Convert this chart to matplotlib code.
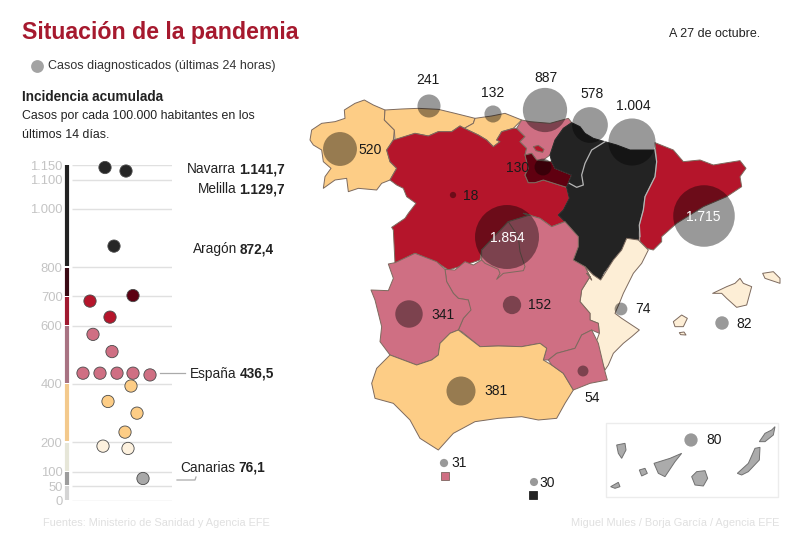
import matplotlib
matplotlib.use("Agg")
import matplotlib.pyplot as plt
from matplotlib.patches import Polygon, Rectangle

plt.rcParams['font.family'] = ['Liberation Sans', 'DejaVu Sans']

# ---------- data: incidence strip ----------
dot_values = [1141.7, 1129.7, 872.4, 703, 684, 629, 570, 511, 437, 437, 437, 437, 431, 393, 340, 300, 235, 187, 179, 76.1]
dot_tiers = ['k', 'k', 'k', 'm', 'r', 'r', 'p', 'p', 'p', 'p', 'p', 'p', 'p', 'o', 'o', 'o', 'o', 'c', 'c', 'g']
dot_swarm = [105, 126, 114, 133, 90, 110, 93, 112, 83, 100, 117, 133, 150, 131, 108, 137, 125, 103, 128, 143]
tick_values = [0, 50, 100, 200, 400, 600, 700, 800, 1000, 1100, 1150]
tick_labels = ['0', '50', '100', '200', '400', '600', '700', '800', '1.000', '1.100', '1.150']
band_edges = [0, 50, 100, 200, 400, 600, 700, 800, 1150]
band_colors = ['#d4d4d4', '#9c9c9c', '#e6e6d8', '#f3c98c', '#a87382', '#a01a30', '#3a0a14', '#222222']
tier_colors = {'k': '#262626', 'm': '#5c0012', 'r': '#b5152b', 'p': '#cf6f83',
               'o': '#fdcd86', 'c': '#fdf1de', 'g': '#a8a8a8'}
callouts = [('Navarra', '1.141,7', 285, 173), ('Melilla', '1.129,7', 285, 193),
            ('Aragón', '872,4', 274, 253), ('España', '436,5', 274, 378), ('Canarias', '76,1', 265, 472)]

# ---------- data: daily cases bubbles ----------
case_labels = ['241', '132', '887', '578', '1.004', '520', '130', '18', '1.854', '1.715',
               '341', '152', '74', '82', '381', '54', '31', '30', '80']
case_values = [241, 132, 887, 578, 1004, 520, 130, 18, 1854, 1715, 341, 152, 74, 82, 381, 54, 31, 30, 80]
case_x = [429, 493, 545, 590, 632, 340, 543, 453, 507, 704, 409, 512, 621, 722, 461, 583, 444, 534, 691]
case_y = [106, 114, 110, 125, 142, 149, 167, 195, 237, 216, 314, 305, 309, 323, 391, 371, 463, 482, 440]
label_x = [428, 493, 546, 592, 633, 370, 518, 471, 507, 703, 443, 540, 643, 744, 496, 592, 459, 547, 714]
label_y = [80, 93, 78, 94, 106, 150, 168, 196, 238, 217, 315, 305, 309, 324, 391, 398, 463, 483, 440]

# ---------- data: region outlines ----------
RED, PINK, ORANGE, CREAM, BLACK, WINE = '#b5152b', '#cf6f83', '#fdcd86', '#fdeed6', '#232323', '#600010'

def tracer(x0, y0):
    return lambda pts: [(x0 + x / 3, y0 + y / 3) for x, y in pts]

A, B, C, Z = tracer(305, 90), tracer(510, 100), tracer(365, 240), tracer(360, 230)

regions = [
    ('Galicia', ORANGE, A([(15,150),(20,120),(50,100),(90,95),(120,85),(118,60),(150,40),(178,30),(205,45),(240,60),(238,90),(268,120),(265,150),(245,180),(255,215),(275,235),(255,270),(230,280),(215,300),(160,295),(130,305),(125,265),(90,270),(55,295),(60,260),(78,235),(55,215),(50,180),(25,165)])),
    ('Asturias', ORANGE, A([(240,60),(290,57),(340,55),(400,58),(450,70),(510,85),(505,100),(478,115),(465,108),(440,125),(400,125),(370,138),(330,130),(270,150),(268,120),(238,90)])),
    ('Cantabria', ORANGE, A([(510,85),(560,78),(600,70),(650,90),(625,115),(590,125),(575,150),(585,155),(565,170),(545,150),(520,135),(478,115),(505,100)])),
    ('CastillaLeon', RED, A([(245,180),(265,150),(330,130),(370,138),(400,125),(440,125),(465,108),(478,115),(520,135),(545,150),(565,170),(585,155),(575,150),(590,125),(625,115)])
        + B([(20,85),(45,110),(30,125),(50,145),(45,165),(55,205),(45,225),(55,248),(75,248),(100,240),(170,262),(178,295),(160,330),(145,345),(165,365),(125,380),(90,355),(40,340)])
        + A([(675,375),(610,395),(560,450),(530,480),(525,510),(480,525),(430,540),(400,520),(330,490),(270,520),(265,420),(260,412),(300,385),(310,370),(333,340),(305,320),(295,295),(275,285),(255,270),(275,235),(255,215)])),
    ('PaisVasco', PINK, B([(35,60),(60,65),(120,70),(175,55),(185,68),(160,85),(135,120),(120,165),(100,180),(80,180),(65,160),(45,165),(50,145),(30,125),(45,110),(20,85)])),
    ('Trevino', RED, B([(70,140),(85,136),(102,148),(98,157),(78,152)])),
    ('Rioja', WINE, B([(45,165),(65,160),(80,180),(125,185),(135,205),(185,225),(170,262),(100,240),(75,248),(55,248),(45,225),(55,205)])),
    ('Navarra', BLACK, B([(185,68),(210,80),(225,100),(250,115),(285,125),(245,150),(225,190),(215,225),(220,255),(200,262),(178,250),(170,262),(185,225),(135,205),(125,185),(120,165),(135,120),(160,85)])),
    ('Aragon', BLACK, B([(285,125),(320,135),(360,150),(400,150),(435,150),(440,185),(435,230),(405,290),(400,330),(388,375),(385,420),(350,415),(335,450),(310,480),(280,520),(272,540),(250,525),(225,500),(190,480),(205,440),(205,410),(165,365),(145,345),(160,330),(178,295),(170,262),(178,250),(200,262),(220,255),(215,225),(225,190),(245,150)])),
    ('Cataluna', RED, B([(435,128),(490,150),(520,185),(570,180),(610,195),(640,190),(690,182),(708,205),(690,230),(695,260),(650,290),(580,320),(500,370),(455,410),(455,425),(430,450),(410,445),(390,425),(388,375),(400,330),(405,290),(435,230),(440,185)])),
    ('Valencia', CREAM, B([(350,415),(385,420),(415,450),(395,490),(370,520),(345,570)])
        + Z([(790,190),(780,215),(765,250),(785,265),(838,300),(815,320),(790,340),(760,370),(745,405),(735,420),(715,370),(705,345),(718,310),(715,280),(690,270),(690,250),(660,215),(665,180),(690,140),(680,130)])
        + B([(245,540),(225,500),(250,525),(272,540),(310,480),(335,450)])),
    ('CLM', PINK, C([(350,60),(350,30),(430,-55),(495,-75)])
        + B([(40,340),(90,355),(125,380),(165,365),(205,410),(205,440),(190,480),(225,500),(245,540)])
        + Z([(680,130),(690,140),(665,180),(660,215),(690,250),(690,270),(715,280),(718,310)])
        + C([(680,270),(650,285),(630,325),(575,340),(550,360),(535,360),(545,325),(525,310),(470,320),(400,318),(345,320),(290,275),(280,270),(295,235),(315,210),(310,180),(280,175),(265,160),(245,125),(240,88),(270,90),(300,65),(325,75)])),
    ('Madrid', PINK, C([(350,30),(430,-55),(460,-10),(465,35),(480,80),(475,92),(415,100),(395,118),(405,100),(400,88),(360,70),(350,60)])),
    ('Extremadura', PINK, C([(18,150),(70,152),(85,115),(70,72),(90,68),(150,40),(215,65),(240,88),(245,125),(265,160),(280,175),(310,180),(318,210),(295,235),(280,270),(255,280),(225,310),(220,345),(200,360),(155,375),(115,360),(75,345),(45,305),(50,260),(30,180)])),
    ('Andalucia', ORANGE, C([(20,430),(35,385),(75,345),(115,360),(155,375),(200,360),(220,345),(225,310),(255,280),(280,270),(345,320),(400,318),(470,320),(525,310),(545,325),(535,360),(560,375),(595,400),(625,450),(600,490),(575,535),(520,540),(470,530),(400,535),(330,545),(265,580),(220,630),(165,595),(135,540),(85,490),(30,475)])),
    ('Murcia', PINK, C([(550,360),(575,340),(630,325),(650,285),(680,270),(700,310),(720,395),(727,420),(675,430),(625,450),(595,400),(560,375)])),
    ('Mallorca', CREAM, Z([(1058,190),(1100,170),(1125,160),(1140,145),(1150,160),(1175,170),(1160,225),(1130,232),(1100,205),(1085,190)])),
    ('Menorca', CREAM, Z([(1208,130),(1240,125),(1260,145),(1260,160),(1215,145)])),
    ('Ibiza', CREAM, Z([(940,275),(965,255),(982,265),(970,290),(945,290)])),
    ('Formentera', CREAM, Z([(958,308),(972,306),(978,315),(962,314)])),
]
light_borders = [
    B([(285,125),(245,150),(225,190),(215,225),(220,255),(200,262),(178,250)]),
    B([(435,150),(440,185),(435,230),(405,290),(400,330),(388,375),(390,410)]),
]
canary = [
    Z([(770,645),(795,640),(798,660),(785,685),(775,670)]),
    Z([(838,720),(855,715),(862,730),(845,738)]),
    Z([(752,770),(775,757),(780,770),(765,775)]),
    Z([(882,700),(930,685),(965,670),(945,695),(915,740),(895,730)]),
    Z([(995,740),(1010,725),(1035,722),(1043,745),(1030,768),(1005,765)]),
    Z([(1132,730),(1165,700),(1185,655),(1200,652),(1198,690),(1165,725),(1145,735)]),
    Z([(1198,635),(1215,610),(1235,600),(1245,590),(1240,615),(1215,635)]),
]

fig = plt.figure(figsize=(8, 5.44), dpi=100, facecolor='white')
ax = fig.add_axes([0, 0, 1, 1])
ax.set_xlim(0, 800)
ax.set_ylim(544, 0)
ax.axis('off')

# map
for name, col, pts in regions:
    edge = '#2a2a2a' if col == BLACK else '#7d6a5e'
    ax.add_patch(Polygon(pts, closed=True, fc=col, ec=edge, lw=0.7, joinstyle='round', zorder=2))
for line in light_borders:
    ax.plot(*zip(*line), color='#b5b5b5', lw=0.9, zorder=2.5)
ax.add_patch(Rectangle((605.7, 423.3), 172, 73.4, fc='white', ec='#ececec', lw=1, zorder=1))
for pts in canary:
    ax.add_patch(Polygon(pts, closed=True, fc='#ababab', ec='#707070', lw=0.7, zorder=2))

# bubbles
ax.scatter(case_x, case_y, s=[1.145 * v for v in case_values], c='black', alpha=0.4, lw=0, zorder=3)
for t, x, y in zip(case_labels, label_x, label_y):
    white = t in ('1.854', '1.715')
    ax.text(x, y, t, ha='center', va='center', fontsize=10, color='white' if white else '#1a1a1a', zorder=4)
ax.add_patch(Rectangle((441, 472), 8, 8, fc=PINK, ec='#7d6560', lw=0.6, zorder=3))
ax.add_patch(Rectangle((529, 491), 8, 8, fc=BLACK, ec=BLACK, lw=0.6, zorder=3))

# header texts
ax.text(22, 32, 'Situación de la pandemia', fontsize=16.7, fontweight='bold', color='#a6192e', va='center')
ax.text(669, 34, 'A 27 de octubre.', fontsize=9.0, color='#222222', va='center')
ax.scatter([37], [66], s=85, c='#a3a3a3', lw=0, zorder=3)
ax.text(48, 66, 'Casos diagnosticados (últimas 24 horas)', fontsize=9.0, color='#333333', va='center')
ax.text(22, 97, 'Incidencia acumulada', fontsize=9.8, fontweight='bold', color='#222222', va='center')
ax.text(22, 116, 'Casos por cada 100.000 habitantes en los', fontsize=8.9, color='#222222', va='center')
ax.text(22, 135, 'últimos 14 días.', fontsize=8.9, color='#222222', va='center')
ax.text(43, 523, 'Fuentes: Ministerio de Sanidad y Agencia EFE', fontsize=7.9, color='#e0e0e0', va='center')
ax.text(779, 523, 'Miguel Mules / Borja García / Agencia EFE', fontsize=7.9, color='#e0e0e0', va='center', ha='right')

# leaders
ax.plot([160, 185], [373, 373], color='#aaaaaa', lw=0.9, zorder=3)
ax.plot([177, 195, 196], [480, 480, 477], color='#aaaaaa', lw=0.9, zorder=3)

# callouts with mixed weight
fig.canvas.draw()
rend = fig.canvas.get_renderer()
inv = ax.transData.inverted()
for name, val, xr, yb in callouts:
    t = ax.text(xr, yb, val, ha='right', va='baseline', fontsize=9.8, fontweight='bold', color='#222222')
    x0 = inv.transform(t.get_window_extent(rend).p0)[0]
    ax.text(x0 - 3, yb, name, ha='right', va='baseline', fontsize=9.8, color='#222222')

# incidence strip on a linear value axis
sx = fig.add_axes([64 / 800, (544 - 500.7) / 544, 108 / 800, 335.6 / 544], facecolor='none')
sx.set_xlim(64, 172)
sx.set_ylim(0, 1150)
for s in sx.spines.values():
    s.set_visible(False)
sx.set_xticks([])
sx.set_yticks(tick_values)
sx.set_yticklabels(tick_labels, fontsize=9.4, color='#c4c4c4')
sx.tick_params(axis='y', length=0, pad=1)
sx.hlines(tick_values, 72, 172, color='#e0e0e0', lw=1, zorder=1)
for lo, hi, c in zip(band_edges[:-1], band_edges[1:], band_colors):
    sx.vlines(67, lo + 3, hi - 1, color=c, lw=3, zorder=2, clip_on=False)
sx.scatter(dot_swarm, dot_values, s=78, c=[tier_colors[t] for t in dot_tiers], edgecolors='#4a4a4a', linewidths=0.6,
           zorder=3, clip_on=False)

fig.savefig('out.png', dpi=100)
